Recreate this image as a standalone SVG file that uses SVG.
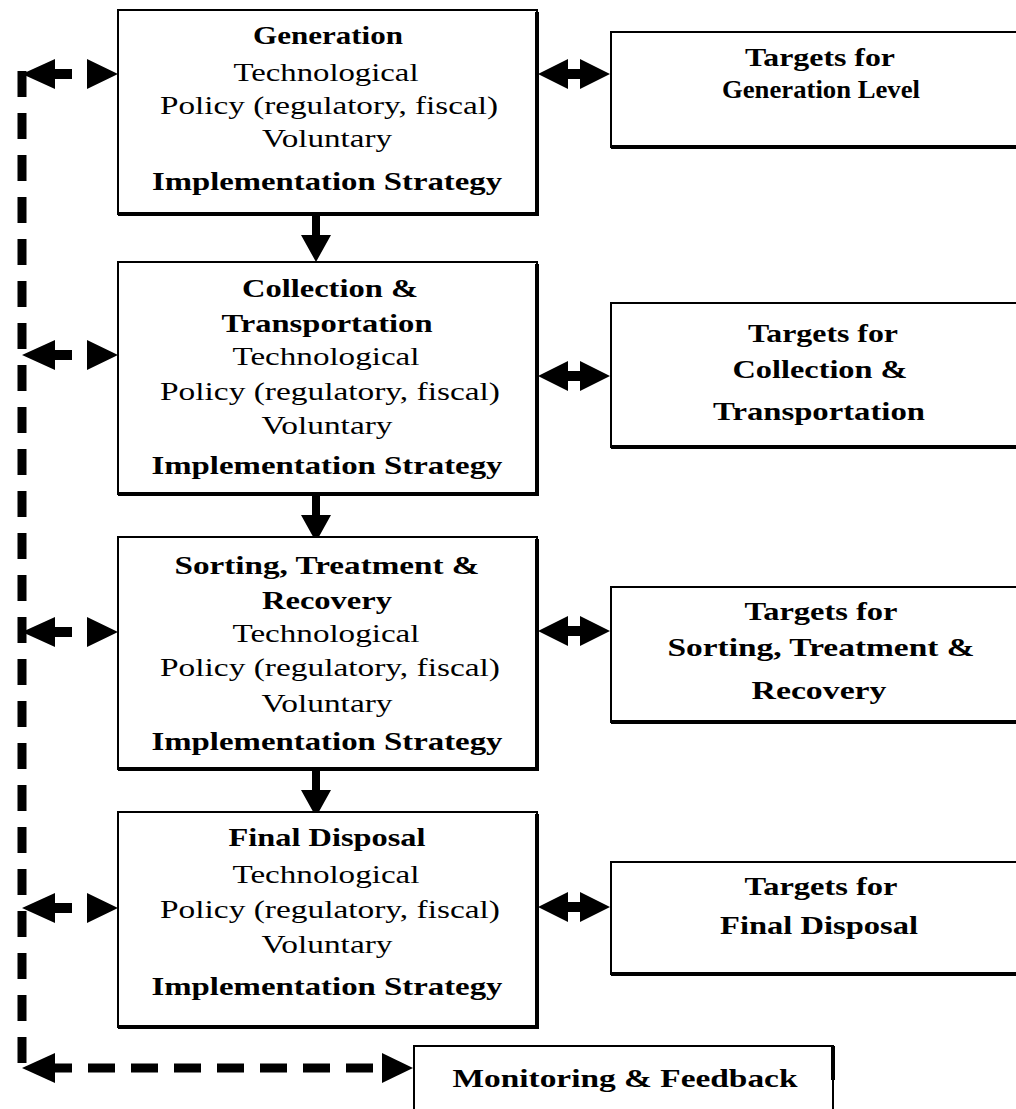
<svg xmlns="http://www.w3.org/2000/svg" width="1016" height="1109" viewBox="0 0 1016 1109">
<style>
.box{fill:#fff;stroke:#000;stroke-width:2}
.sh{fill:none;stroke:#000;stroke-width:4}
text{font-family:"Liberation Serif","Times New Roman",serif;font-size:26px;fill:#000;text-anchor:middle}
.b{font-weight:bold}
.ah{fill:#000;stroke:none}
.dash{stroke:#000;stroke-width:9;fill:none}
</style>
<defs>
<path id="lr" d="M0,0 L33,-15 L33,-5 L50,-5 L50,5 L33,5 L33,15 Z M65,-15 L96,0 L65,15 Z"/>
<path id="dbl" d="M0,0 L30,-15 L30,-5 L42,-5 L42,-15 L72,0 L42,15 L42,5 L30,5 L30,15 Z"/>
<path id="dn" d="M-4,0 L4,0 L4,21 L15,21 L0,48 L-15,21 L-4,21 Z"/>
</defs>

<g id="connectors">
  <path class="dash" d="M22,71 V1072" stroke-dasharray="26 16"/>
  <use href="#lr" x="22" y="74" class="ah"/>
  <use href="#lr" x="22" y="355" class="ah"/>
  <use href="#lr" x="22" y="632" class="ah"/>
  <use href="#lr" x="22" y="908" class="ah"/>
  <path class="ah" d="M22,1068 L55,1053 L55,1083 Z"/>
  <path class="dash" d="M45,1068 H382" stroke-dasharray="27 16"/>
  <path class="ah" d="M382,1053 L413,1068 L382,1083 Z"/>
  <use href="#dbl" x="538" y="74" class="ah"/>
  <use href="#dbl" x="538" y="376" class="ah"/>
  <use href="#dbl" x="538" y="631" class="ah"/>
  <use href="#dbl" x="538" y="907" class="ah"/>
  <use href="#dn" x="316" y="214" class="ah"/>
  <use href="#dn" x="316" y="494" class="ah"/>
  <use href="#dn" x="316" y="769" class="ah"/>
</g>

<g id="generation">
  <rect class="box" x="118" y="10" width="419" height="204"/>
  <path class="sh" d="M537,12 V214 H118"/>
  <text class="b" x="328" y="44" textLength="150" lengthAdjust="spacingAndGlyphs">Generation</text>
  <text x="326" y="81" textLength="185" lengthAdjust="spacingAndGlyphs">Technological</text>
  <text x="329" y="114" textLength="338" lengthAdjust="spacingAndGlyphs">Policy (regulatory, fiscal)</text>
  <text x="327" y="147" textLength="130" lengthAdjust="spacingAndGlyphs">Voluntary</text>
  <text class="b" x="327" y="190" textLength="350" lengthAdjust="spacingAndGlyphs">Implementation Strategy</text>
</g>

<g id="collection">
  <rect class="box" x="118" y="262" width="419" height="232"/>
  <path class="sh" d="M537,264 V494 H118"/>
  <text class="b" x="330" y="297" textLength="176" lengthAdjust="spacingAndGlyphs">Collection &amp;</text>
  <text class="b" x="327" y="332" textLength="211" lengthAdjust="spacingAndGlyphs">Transportation</text>
  <text x="326" y="365" textLength="187" lengthAdjust="spacingAndGlyphs">Technological</text>
  <text x="330" y="400" textLength="340" lengthAdjust="spacingAndGlyphs">Policy (regulatory, fiscal)</text>
  <text x="327" y="434" textLength="131" lengthAdjust="spacingAndGlyphs">Voluntary</text>
  <text class="b" x="327" y="474" textLength="351" lengthAdjust="spacingAndGlyphs">Implementation Strategy</text>
</g>

<g id="sorting">
  <rect class="box" x="118" y="537" width="419" height="232"/>
  <path class="sh" d="M537,539 V769 H118"/>
  <text class="b" x="327" y="574" textLength="305" lengthAdjust="spacingAndGlyphs">Sorting, Treatment &amp;</text>
  <text class="b" x="327" y="609" textLength="130" lengthAdjust="spacingAndGlyphs">Recovery</text>
  <text x="326" y="642" textLength="187" lengthAdjust="spacingAndGlyphs">Technological</text>
  <text x="330" y="676" textLength="340" lengthAdjust="spacingAndGlyphs">Policy (regulatory, fiscal)</text>
  <text x="327" y="712" textLength="131" lengthAdjust="spacingAndGlyphs">Voluntary</text>
  <text class="b" x="327" y="750" textLength="351" lengthAdjust="spacingAndGlyphs">Implementation Strategy</text>
</g>

<g id="disposal">
  <rect class="box" x="118" y="812" width="419" height="215"/>
  <path class="sh" d="M537,814 V1027 H118"/>
  <text class="b" x="327" y="846" textLength="197" lengthAdjust="spacingAndGlyphs">Final Disposal</text>
  <text x="326" y="883" textLength="187" lengthAdjust="spacingAndGlyphs">Technological</text>
  <text x="330" y="918" textLength="340" lengthAdjust="spacingAndGlyphs">Policy (regulatory, fiscal)</text>
  <text x="327" y="953" textLength="131" lengthAdjust="spacingAndGlyphs">Voluntary</text>
  <text class="b" x="327" y="995" textLength="351" lengthAdjust="spacingAndGlyphs">Implementation Strategy</text>
</g>

<g id="targets-generation">
  <rect class="box" x="611" y="32" width="420" height="115"/>
  <path class="sh" d="M611,147 H1020"/>
  <text class="b" x="820" y="66" textLength="150" lengthAdjust="spacingAndGlyphs">Targets for</text>
  <text class="b" x="821" y="98" textLength="198" lengthAdjust="spacingAndGlyphs">Generation Level</text>
</g>

<g id="targets-collection">
  <rect class="box" x="611" y="303" width="420" height="144"/>
  <path class="sh" d="M611,447 H1020"/>
  <text class="b" x="823" y="342" textLength="150" lengthAdjust="spacingAndGlyphs">Targets for</text>
  <text class="b" x="820" y="378" textLength="175" lengthAdjust="spacingAndGlyphs">Collection &amp;</text>
  <text class="b" x="819" y="420" textLength="212" lengthAdjust="spacingAndGlyphs">Transportation</text>
</g>

<g id="targets-sorting">
  <rect class="box" x="611" y="587" width="420" height="135"/>
  <path class="sh" d="M611,722 H1020"/>
  <text class="b" x="821" y="620" textLength="153" lengthAdjust="spacingAndGlyphs">Targets for</text>
  <text class="b" x="821" y="656" textLength="307" lengthAdjust="spacingAndGlyphs">Sorting, Treatment &amp;</text>
  <text class="b" x="819" y="699" textLength="135" lengthAdjust="spacingAndGlyphs">Recovery</text>
</g>

<g id="targets-disposal">
  <rect class="box" x="611" y="862" width="420" height="112"/>
  <path class="sh" d="M611,974 H1020"/>
  <text class="b" x="821" y="895" textLength="153" lengthAdjust="spacingAndGlyphs">Targets for</text>
  <text class="b" x="819" y="934" textLength="198" lengthAdjust="spacingAndGlyphs">Final Disposal</text>
</g>

<g id="monitoring">
  <rect class="box" x="414" y="1046" width="419" height="80"/>
  <path class="sh" d="M833,1046 V1080"/>
  <text class="b" x="625" y="1087" textLength="345" lengthAdjust="spacingAndGlyphs">Monitoring &amp; Feedback</text>
</g>
</svg>
